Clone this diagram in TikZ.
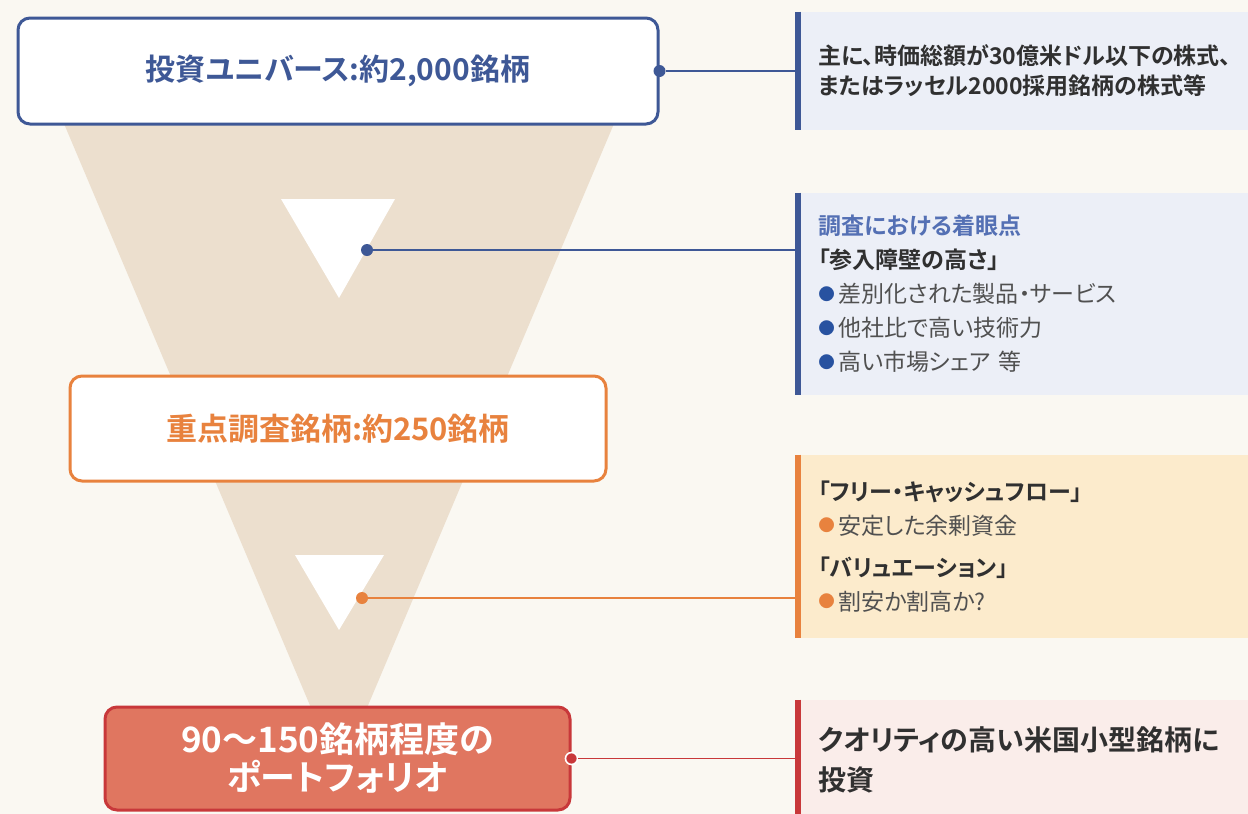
\documentclass[tikz,border=0pt]{standalone}
\usepackage{fontspec}
\setmainfont{Noto Sans CJK JP}[BoldFont={Noto Sans CJK JP Bold}, RawFeature={+palt}]
\usepackage{xcolor}
\usepackage{graphicx}
\usepackage{tikz}

\definecolor{Cream}{RGB}{250,248,242}
\definecolor{Funnel}{RGB}{236,223,206}
\definecolor{Navy}{RGB}{62,88,150}
\definecolor{NavyLight}{RGB}{84,112,180}
\definecolor{BulletBlue}{RGB}{40,82,160}
\definecolor{Amber}{RGB}{232,130,62}
\definecolor{Brick}{RGB}{200,56,58}
\definecolor{Salmon}{RGB}{224,118,96}
\definecolor{PanelBlue}{RGB}{236,239,247}
\definecolor{PanelAmber}{RGB}{252,235,204}
\definecolor{PanelRed}{RGB}{250,237,234}
\definecolor{Ink}{RGB}{48,48,48}
\definecolor{InkSoft}{RGB}{80,80,80}

% small round bullet, coloured
\newcommand{\pip}[1]{{\color{#1}\raisebox{0.12em}{\scalebox{0.72}{●}}}\kern0.15em}

\begin{document}
\begin{tikzpicture}[x=0.5pt, y=-0.5pt,
  stage/.style={rectangle, rounded corners=6pt, line width=1.5pt, fill=white,
    align=center, inner sep=0pt},
  %
  panel/.style={rectangle, anchor=west, text width=215pt, inner xsep=10pt,
    inner ysep=0pt, align=left, text=Ink,
    font=\fontsize{11.5}{17}\selectfont},
  %
  bar/.style={line width=3pt},
  %
  link/.style={line width=0.9pt},
  %
  dot/.style={circle, inner sep=0pt, minimum size=6pt}
  ]

  \path[fill=Cream, use as bounding box] (0,0) rectangle (1248,814);
  \clip (0,0) rectangle (1248,814);

  \begin{scope}
    % funnel
    \fill[Funnel] (54,100) -- (624,100) -- (339,774) -- cycle;
    \fill[white] (281,199) -- (395,199) -- (339,298) -- cycle;
    \fill[white] (295,555) -- (384,555) -- (339,630) -- cycle;
  \end{scope}

  \begin{scope}
    %%%%%%%%%%%%%%%%%%%%%%%%%%%%%%%
    \node [stage, draw=Navy, text=Navy, minimum width=320pt, minimum height=53pt,
      font=\bfseries\fontsize{15}{18}\selectfont] (universe) at (338,71)
      {投資ユニバース:約2,000銘柄};
    %%%%%%%%%%%%%%%%%%%%%%%%%%%%%%%
    \node [stage, draw=Amber, text=Amber, minimum width=268pt, minimum height=52.5pt,
      font=\bfseries\fontsize{15.5}{18}\selectfont] (focus) at (338,428.5)
      {重点調査銘柄:約250銘柄};
    %%%%%%%%%%%%%%%%%%%%%%%%%%%%%%%
    \node [stage, draw=Brick, fill=Salmon, text=white, minimum width=232.5pt,
      minimum height=51.5pt, font=\bfseries\fontsize{17.5}{19}\selectfont]
      (portfolio) at (337.5,758.5) {90〜150銘柄程度の\\ポートフォリオ};
  \end{scope}

  \begin{scope}
    \node [panel, fill=PanelBlue, minimum height=59pt, font=\bfseries\fontsize{11.5}{15}\selectfont]
      (infoA) at (798,71)
      {主に、時価総額が30億米ドル以下の株式、\\またはラッセル2000採用銘柄の株式等};
    \node [panel, fill=PanelBlue, minimum height=101pt] (infoB) at (798,294)
      {{\bfseries\color{NavyLight}調査における着眼点}\\
       {\bfseries「参入障壁の高さ」}\\
       {\color{InkSoft}\pip{BulletBlue}差別化された製品・サービス}\\
       {\color{InkSoft}\pip{BulletBlue}他社比で高い技術力}\\
       {\color{InkSoft}\pip{BulletBlue}高い市場シェア 等}};
    \node [panel, fill=PanelAmber, minimum height=91.5pt] (infoC) at (798,546.5)
      {{\bfseries「フリー・キャッシュフロー」}\\
       {\color{InkSoft}\pip{Amber}安定した余剰資金}\\[4pt]
       {\bfseries「バリュエーション」}\\
       {\color{InkSoft}\pip{Amber}割安か割高か?}};
    \node [panel, fill=PanelRed, minimum height=60pt,
      font=\bfseries\fontsize{14}{20}\selectfont] (infoD) at (798,760)
      {クオリティの高い米国小型銘柄に\\投資};
  \end{scope}

  \begin{scope}
    \draw [bar, Navy] (infoA.north west) -- (infoA.south west);
    \draw [bar, Navy] (infoB.north west) -- (infoB.south west);
    \draw [bar, Amber] (infoC.north west) -- (infoC.south west);
    \draw [bar, Brick] (infoD.north west) -- (infoD.south west);

    \node [dot, fill=Navy] (dotA) at (universe.east) {};
    \node [dot, fill=Navy] (dotB) at (367,250) {};
    \node [dot, fill=Amber] (dotC) at (362,598) {};
    \node [dot, fill=Brick, draw=white, line width=0.8pt] (dotD) at (portfolio.east) {};

    \draw [link, Navy] (dotA) -- (dotA -| infoA.west);
    \draw [link, Navy] (dotB) -- (dotB -| infoB.west);
    \draw [link, Amber] (dotC) -- (dotC -| infoC.west);
    \draw [link, Brick] (dotD) -- (dotD -| infoD.west);
  \end{scope}

\end{tikzpicture}
\end{document}
